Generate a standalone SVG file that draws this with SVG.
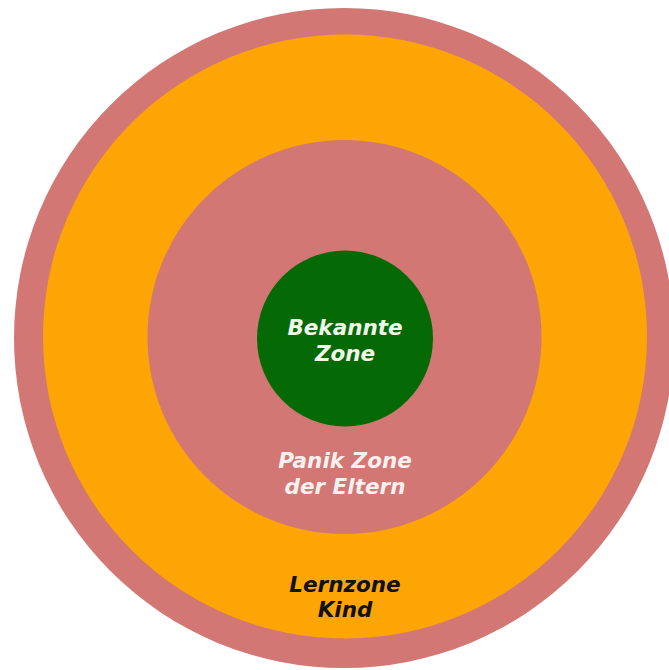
<svg xmlns="http://www.w3.org/2000/svg" width="669" height="670" viewBox="0 0 669 670">
<style>
.lbl{font-family:"DejaVu Sans",Verdana,sans-serif;font-weight:bold;font-style:italic;font-size:21.5px;text-anchor:middle}
.pink{fill:#D27773}
</style>
<rect width="669" height="670" fill="#ffffff"/>
<g id="outer"><circle class="pink" cx="344" cy="338" r="330"/></g>
<g id="lernzone"><circle cx="345" cy="336.5" r="302" fill="#FDA505"/>
<text class="lbl" x="345" y="592" fill="#111111">Lernzone</text>
<text class="lbl" x="345" y="617" fill="#111111">Kind</text></g>
<g id="panik"><circle class="pink" cx="344.5" cy="337" r="197"/>
<text class="lbl" x="345" y="468" fill="#FBF0F0">Panik Zone</text>
<text class="lbl" x="345" y="494" fill="#FBF0F0">der Eltern</text></g>
<g id="bekannt"><circle cx="345" cy="338.5" r="88" fill="#056A05"/>
<text class="lbl" x="345" y="335" fill="#F2F8EA">Bekannte</text>
<text class="lbl" x="345" y="361" fill="#F2F8EA">Zone</text></g>
<g id="connectors"/>
</svg>
